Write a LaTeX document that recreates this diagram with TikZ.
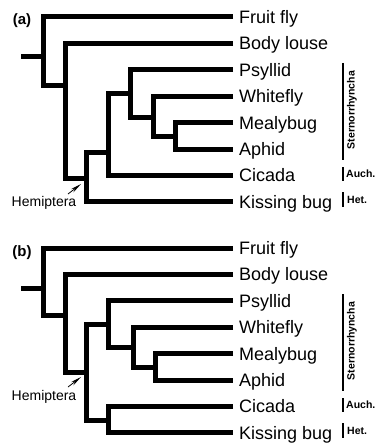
\documentclass[tikz,border=0pt]{standalone}
\usepackage{fontspec}
\setmainfont{Liberation Sans}
\usetikzlibrary{arrows.meta}
\tikzset{
  branch/.style={line width=5pt,line join=miter,line cap=butt},
  leaf/.style={anchor=west,inner xsep=6pt,inner ysep=0pt,text height=12.9pt,text depth=0pt,
    font=\fontsize{18}{18}\selectfont},
  bracket/.style={line width=1.3pt},
  grouplab/.style={inner sep=0pt,font=\bfseries\fontsize{10.5}{10.5}\selectfont},
  panellab/.style={inner sep=0pt,font=\bfseries\fontsize{15}{15}\selectfont},
  cladelab/.style={inner sep=0pt,font=\fontsize{14}{14}\selectfont},
  pointer/.style={line width=0.8pt,-{Stealth[length=11pt,width=4pt]}}
}
\begin{document}
\begin{tikzpicture}[x=1pt,y=-1pt]
\useasboundingbox (0,0) rectangle (376,444);

% (a)
\node[panellab] (pa) at (22,21) {(a)};
\foreach \i/\lab in {1/Fruit fly,2/Body louse,3/Psyllid,4/Whitefly,5/Mealybug,6/Aphid,7/Cicada,8/Kissing bug}
  \node[leaf] (a\i) at (233,{17+26.4*(\i-1)}) {\lab};

\coordinate (ra) at (43,57);
\coordinate (rsa) at (21,57);
\coordinate (na2) at (65,85);
\coordinate (na3) at (86,178);
\coordinate (na4) at (108,152);
\coordinate (na5) at (130,93);
\coordinate (na6) at (153,117);
\coordinate (na7) at (175,136);

\draw[branch] (rsa) -- (ra);
\draw[branch] (a1.west) -| (ra) |- (na2);
\draw[branch] (a2.west) -| (na2) |- (na3);
\draw[branch] (na4) -| (na3) |- (a8.west);
\draw[branch] (na5) -| (na4) |- (a7.west);
\draw[branch] (a3.west) -| (na5) |- (na6);
\draw[branch] (a4.west) -| (na6) |- (na7);
\draw[branch] (a5.west) -| (na7) |- (a6.west);

\node[cladelab] (hema) at (44,203) {Hemiptera};
\coordinate (hemtipa) at (81,184);
\draw[pointer] (68,194) -- (hemtipa);

\draw[bracket] (343,63) -- (343,160);
\draw[bracket] (343,167) -- (343,181);
\draw[bracket] (343,192) -- (343,207);
\node[grouplab,rotate=90] (sta) at (352,110) {Sternorrhyncha};
\node[grouplab,anchor=west] (aua) at (346,174) {Auch.};
\node[grouplab,anchor=west] (hta) at (347,200) {Het.};

% (b)
\node[panellab] (pb) at (22,253) {(b)};
\foreach \i/\lab in {1/Fruit fly,2/Body louse,3/Psyllid,4/Whitefly,5/Mealybug,6/Aphid,7/Cicada,8/Kissing bug}
  \node[leaf] (b\i) at (233,{248+26.4*(\i-1)}) {\lab};

\coordinate (rb) at (43,288);
\coordinate (rsb) at (21,288);
\coordinate (nb2) at (65,315);
\coordinate (nb3) at (86,372);
\coordinate (nb4) at (108,324);
\coordinate (nb5) at (133,347);
\coordinate (nb6) at (155,367);
\coordinate (nb8) at (108,420);

\draw[branch] (rsb) -- (rb);
\draw[branch] (b1.west) -| (rb) |- (nb2);
\draw[branch] (b2.west) -| (nb2) |- (nb3);
\draw[branch] (nb4) -| (nb3) |- (nb8);
\draw[branch] (b3.west) -| (nb4) |- (nb5);
\draw[branch] (b4.west) -| (nb5) |- (nb6);
\draw[branch] (b5.west) -| (nb6) |- (b6.west);
\draw[branch] (b7.west) -| (nb8) |- (b8.west);

\node[cladelab] (hemb) at (44,397) {Hemiptera};
\coordinate (hemtipb) at (81,377);
\draw[pointer] (68,387) -- (hemtipb);

\draw[bracket] (343,294) -- (343,391);
\draw[bracket] (343,398) -- (343,412);
\draw[bracket] (343,423) -- (343,438);
\node[grouplab,rotate=90] (stb) at (352,341) {Sternorrhyncha};
\node[grouplab,anchor=west] (aub) at (346,405) {Auch.};
\node[grouplab,anchor=west] (htb) at (347,431) {Het.};
\end{tikzpicture}
\end{document}
